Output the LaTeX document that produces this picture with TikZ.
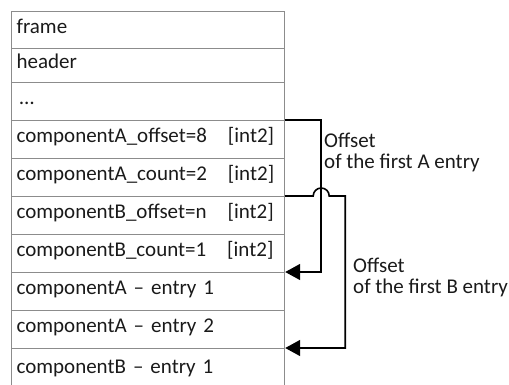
\documentclass[tikz,border=0pt]{standalone}
\usepackage{fontspec}
\setmainfont{Carlito}
\usetikzlibrary{arrows.meta}
\definecolor{cellgray}{HTML}{8C8C8C}
\definecolor{ink}{HTML}{1A1A1A}
\begin{document}
\begin{tikzpicture}[x=1pt,y=-1pt,
  cell/.style={draw=cellgray, line width=1.2pt, anchor=north west,
    minimum width=273pt, text width=263pt, align=left,
    inner xsep=5pt, inner ysep=0pt, text height=0.72em, text depth=0.12em,
    text=ink, font=\fontsize{21}{22}\selectfont},
  link/.style={draw=black, line width=1.6pt},
  tip/.style={-{Triangle[length=15pt,width=16pt]}},
  note/.style={anchor=north west, align=left, inner sep=0pt, text=ink,
    font=\fontsize{21}{21.5}\selectfont}
]
\useasboundingbox (0,0) rectangle (509,384);

% memory layout, one cell per field
\node[cell, minimum height=37pt] (r1)  at (11,11)  {frame};
\node[cell, minimum height=34pt] (r2)  at (11,48)  {header};
\node[cell, minimum height=38pt] (r3)  at (11,82)  {\hspace{3pt}…};
\node[cell, minimum height=38pt] (r4)  at (11,120) {componentA\_offset=8~~~[int2]};
\node[cell, minimum height=38pt] (r5)  at (11,158) {componentA\_count=2~~~[int2]};
\node[cell, minimum height=38pt] (r6)  at (11,196) {componentB\_offset=n~~~[int2]};
\node[cell, minimum height=38pt] (r7)  at (11,234) {componentB\_count=1~~~[int2]};
\node[cell, minimum height=38pt] (r8)  at (11,272) {componentA – entry 1};
\node[cell, minimum height=38pt] (r9)  at (11,310) {componentA – entry 2};
\node[cell, minimum height=44pt] (r10) at (11,348) {componentB – entry 1};

% offset pointers
\draw[link,tip] (r4.north east) -- ++(36,0) |- (r8.north east);
\draw[link,tip] (r6.north east) -- ++(28,0)
  arc[start angle=180, end angle=360, radius=8] -- ++(16,0)
  |- (r10.north east);

% pointer captions
\node[note] (na) at (324,132.5) {Offset\\of the first A entry};
\node[note] (nb) at (353,257.5) {Offset\\of the first B entry};
\end{tikzpicture}
\end{document}
